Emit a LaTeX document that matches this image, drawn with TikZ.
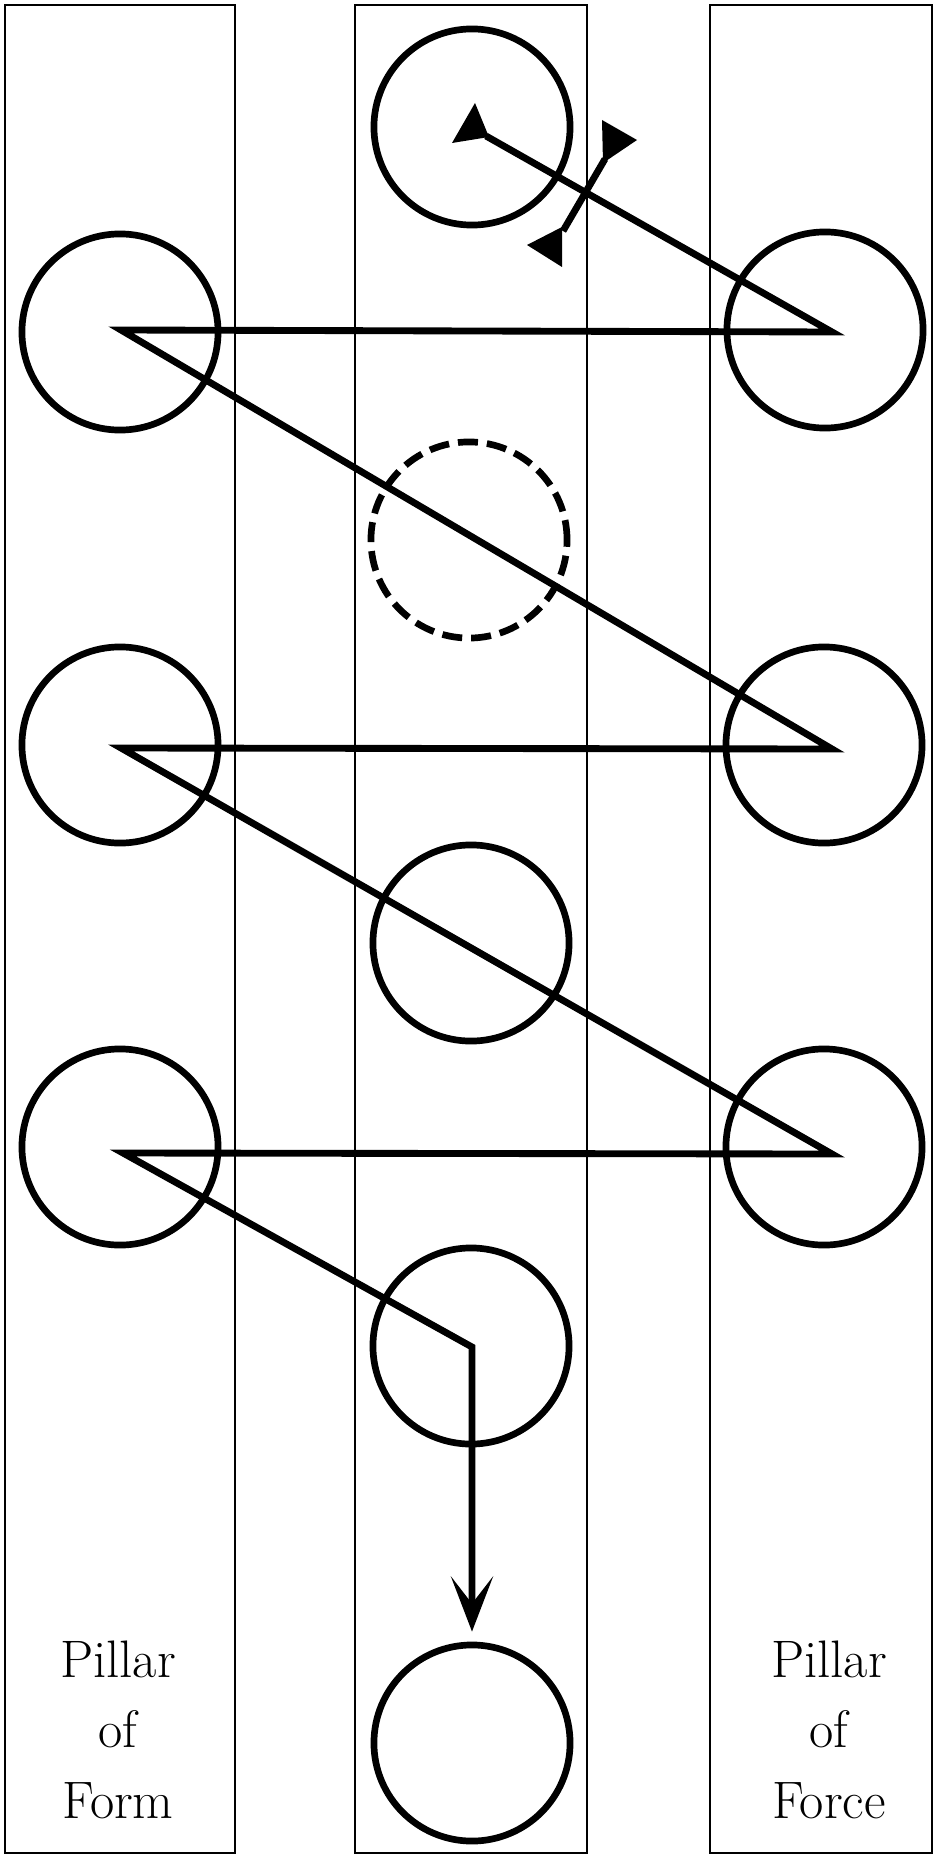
\documentclass[tikz,border=0pt]{standalone}
\usetikzlibrary{arrows.meta}
\begin{document}
\begin{tikzpicture}[
  x=0.01cm, y=-0.01cm,
  pillar/.style={draw=black, line width=0.6pt},
  ring/.style={draw=black, line width=1.9pt, circle,
               minimum size=1.96cm, inner sep=0pt},
  ghost/.style={ring, dash pattern=on 0.2cm off 0.09cm},
  zig/.style={draw=black, line width=1.95pt},
  lab/.style={font=\fontsize{15}{20}\selectfont, align=center, anchor=base},
]
\useasboundingbox (0,0) rectangle (934,1855);
\fill[white] (0,0) rectangle (934,1855);

% the three pillars
\draw[pillar] (5,5) rectangle (235,1853);
\draw[pillar] (355,5) rectangle (587,1853);
\draw[pillar] (710,5) rectangle (932,1853);

% circles
\node[ring] (top) at (472,127) {};
\node[ring] (fm1) at (120,332) {};
\node[ring] (fm2) at (120,745) {};
\node[ring] (fm3) at (120,1147) {};
\node[ring] (fc1) at (825,330) {};
\node[ring] (fc2) at (824,745) {};
\node[ring] (fc3) at (824,1147) {};
\node[ghost] (gap) at (469,540) {};
\node[ring] (mc2) at (471,943) {};
\node[ring] (mc3) at (471,1346) {};
\node[ring] (mc4) at (472,1743) {};

% turning points of the zigzag
\coordinate (start) at (486,136);
\coordinate (k1) at (832,332);
\coordinate (k2) at (121,330);
\coordinate (k3) at (832,749);
\coordinate (k4) at (121,748);
\coordinate (k5) at (832,1154);
\coordinate (k6) at (123,1153);
\coordinate (k7) at (472,1347);

\draw[zig, -{Stealth[length=0.55cm,width=0.42cm,inset=0.27cm]}, shorten >=0.1cm]
  (start) -- (k1) -- (k2) -- (k3) -- (k4) -- (k5) -- (k6) -- (k7) -- (mc4.north);
\fill (475,103) -- (452,143) -- (489,137) -- cycle;

% crossing mark
\coordinate (xa) at (563,231);
\coordinate (xb) at (605,159);
\draw[zig] (xa) -- (xb);
\fill (602,120) -- (637,140) -- (603,163) -- cycle;
\fill (527,245) -- (562,227) -- (562,267) -- cycle;

\node[lab] (form) at (118,1818) {Pillar\\of\\Form};
\node[lab] (force) at (829,1818) {Pillar\\of\\Force};
\end{tikzpicture}
\end{document}
